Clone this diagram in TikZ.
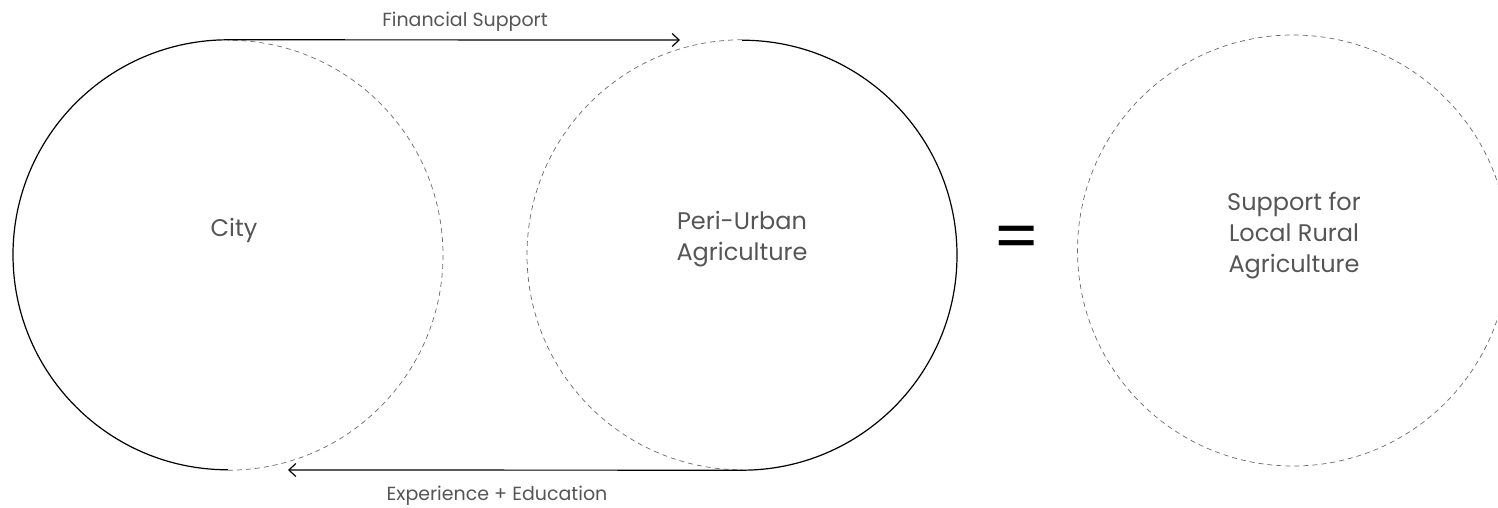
\documentclass[tikz,border=0pt]{standalone}
\usepackage{fontspec}
\setmainfont{Poppins}
\usetikzlibrary{arrows.meta}
\definecolor{txtgray}{HTML}{555555}
\definecolor{dashgray}{HTML}{6A6A6A}
\tikzset{
  ring/.style = {circle, minimum size=430pt, inner sep=0pt},
  solidhalf/.style = {line width=1.2pt, black},
  dashhalf/.style = {line width=0.7pt, dashgray, dash pattern=on 5pt off 4pt},
  flow/.style = {line width=1.2pt, black, -{Straight Barb[length=7pt,width=13pt,line width=1.2pt]}},
  bigtxt/.style = {txtgray, font=\fontsize{24}{31}\selectfont, align=center, anchor=base},
  smalltxt/.style = {txtgray, font=\fontsize{19}{22}\selectfont, anchor=base}
}
\begin{document}
\begin{tikzpicture}[x=1pt, y=1pt]
\useasboundingbox (0,0) rectangle (1498,507);
\node [ring] (city) at (228,252) {};
\node [ring] (peri) at (742,252) {};
\node [ring, minimum size=431pt] (rural) at (1293,256.5) {};
% halves of the two circles
\draw [solidhalf] (city.north) arc [start angle=90, end angle=270, radius=215];
\draw [dashhalf] (city.south) arc [start angle=-90, end angle=90, radius=215];
\draw [dashhalf] (peri.north) arc [start angle=90, end angle=270, radius=215];
\draw [solidhalf] (peri.south) arc [start angle=-90, end angle=90, radius=215];
\draw [dashhalf] (rural.center) circle [radius=215.5];
% flows between city and peri-urban
\coordinate (fintip) at (680,467);
\coordinate (edutip) at (288,37);
\draw [flow] (city.north) -- (fintip);
\draw [flow] (peri.south) -- (edutip);
\node [smalltxt] (fin) at (465,480) {Financial Support};
\node [smalltxt] (edu) at (497,7) {Experience + Education};
% labels
\node [bigtxt] (citytxt) at (234,271) {City};
\node [bigtxt] (peritxt) at (742,247) {Peri-Urban\\Agriculture};
\node [bigtxt] (ruraltxt) at (1294,235) {Support for\\Local Rural\\Agriculture};
\node [font=\fontsize{67}{67}\selectfont] (eq) at (1017,264) {=};
\end{tikzpicture}
\end{document}
